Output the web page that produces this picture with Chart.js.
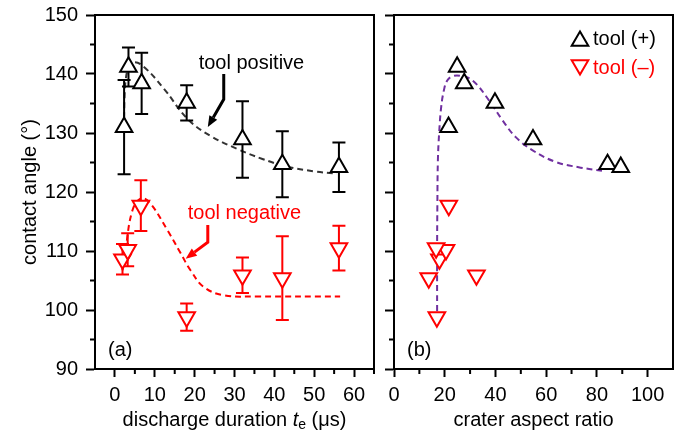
<!DOCTYPE html>
<html>
<head>
<meta charset="utf-8">
<script src="https://cdn.jsdelivr.net/npm/chart.js@4/dist/chart.umd.min.js"></script>
<style>
  body { margin: 0; background: #fff; }
  #wrap { position: relative; width: 683px; height: 439px; }
  canvas { position: absolute; top: 0; }
</style>
</head>
<body>
<div id="wrap">
  <canvas id="left" width="384" height="439" style="left:0"></canvas>
  <canvas id="right" width="299" height="439" style="left:384px"></canvas>
</div>
<script>
// contact angle vs discharge duration and crater aspect ratio
const angleTicks = [90, 100, 110, 120, 130, 140, 150];
const teTicks = [0, 10, 20, 30, 40, 50, 60];
const arTicks = [0, 20, 40, 60, 80, 100];

// tool positive
const posTe = [2.3, 3.4, 6.7, 18, 32, 42, 56.2];
const posAngle = [131.0, 141.2, 138.4, 135.1, 128.9, 124.7, 124.2];
const posErr = [8, 3.3, 5.2, 3, 6.5, 5.6, 4.2];
const posAR = [21.5, 24.9, 27.7, 39.8, 54.8, 84.2, 89.4];

// tool negative
const negTe = [1.9, 3.2, 6.5, 18, 32, 42, 56.2];
const negAngle = [108.6, 110.2, 117.7, 98.8, 105.9, 105.4, 110.5];
const negErr = [2.6, 2.8, 4.3, 2.3, 3, 7.1, 3.8];
const negAR = [17.9, 20.5, 21.6, 16.9, 32.5, 13.7, 16.6];

// dashed guide curves
const posFitX = [2.3, 2.4, 2.7, 3.4, 4.8, 7.3, 12.3, 18.2, 24, 30.7, 37, 43.2, 50, 55.7];
const posFitY = [132.5, 136, 139, 141, 142.0, 141.2, 137.5, 132.4, 129.5, 127.3, 125.6, 124.3, 123.5, 123.1];
const negFitX = [1.9, 2.75, 4.4, 6.5, 8.6, 13.2, 16.5, 19, 22.3, 27.3, 35.7, 56.5];
const negFitY = [106.7, 110.7, 116.9, 118.9, 118.3, 113.5, 109.6, 106.7, 103.9, 102.5, 102.3, 102.3];
const arFitX = [17.0, 17.0, 17.1, 17.3, 17.8, 18.6, 19.7, 21.0, 23.0, 26, 31, 37.5, 42.7, 48, 54.5, 63.7, 72.8, 82];
const arFitY = [99.8, 110, 118, 125.3, 130, 134.4, 137.3, 138.9, 139.6, 139.7, 138.9, 135.5, 132.2, 129.3, 127.1, 125.1, 124.2, 123.6];

const FONT = '"Liberation Sans", Arial, sans-serif';
Chart.defaults.font.family = FONT;
Chart.defaults.color = '#000';

const zip = (xs, ys) => xs.map((x, i) => ({x: x, y: ys[i]}));

function markers(label, xs, ys, color, down, errs) {
  return {
    label: label,
    data: zip(xs, ys),
    pointStyle: 'triangle',
    rotation: down ? 180 : 0,
    radius: 9.6,
    borderWidth: 2,
    borderColor: color,
    backgroundColor: '#fff',
    errorBars: errs,
    clip: false,
    order: 0
  };
}

function fit(xs, ys, color) {
  return {
    data: zip(xs, ys),
    showLine: true,
    pointRadius: 0,
    borderColor: color,
    borderWidth: 2,
    borderDash: [6, 4],
    tension: 0.4,
    order: 2
  };
}

function yScale(showLabels, width) {
  return {
    min: 90, max: 150,
    afterBuildTicks: s => { s.ticks = angleTicks.map(v => ({value: v})); },
    afterFit: s => { s.width = width; s.paddingTop = 0; s.paddingBottom = 0; },
    grid: { drawOnChartArea: false, tickLength: 9, tickWidth: 2, tickColor: '#000' },
    border: { color: '#000', width: 2 },
    ticks: { display: showLabels, padding: 8, font: { size: 20 } }
  };
}

function xScale(min, max, tickVals) {
  return {
    type: 'linear',
    min: min, max: max,
    afterBuildTicks: s => { s.ticks = tickVals.map(v => ({value: v})); },
    afterFit: s => { s.height = 70; s.paddingLeft = 0; s.paddingRight = 0; },
    grid: { drawOnChartArea: false, tickLength: 8, tickWidth: 2, tickColor: '#000' },
    border: { color: '#000', width: 2 },
    ticks: { padding: 6, maxRotation: 0, font: { size: 20 } }
  };
}

const errorBars = {
  id: 'errorBars',
  beforeDatasetDraw(chart, args) {
    const ds = chart.data.datasets[args.index];
    if (!ds.errorBars) return;
    const {ctx, scales} = chart;
    ctx.save();
    ctx.strokeStyle = ds.borderColor;
    ctx.lineWidth = 2;
    ds.data.forEach((p, j) => {
      const x = scales.x.getPixelForValue(p.x);
      const lo = scales.y.getPixelForValue(p.y - ds.errorBars[j]);
      const hi = scales.y.getPixelForValue(p.y + ds.errorBars[j]);
      ctx.beginPath();
      ctx.moveTo(x, lo); ctx.lineTo(x, hi);
      ctx.moveTo(x - 6.5, lo); ctx.lineTo(x + 6.5, lo);
      ctx.moveTo(x - 6.5, hi); ctx.lineTo(x + 6.5, hi);
      ctx.stroke();
    });
    ctx.restore();
  }
};

const decor = {
  id: 'decor',
  afterDraw(chart, args, o) {
    const {ctx, chartArea: a, scales} = chart;
    ctx.save();
    // frame
    ctx.strokeStyle = '#000';
    ctx.lineWidth = 2;
    ctx.strokeRect(a.left, a.top, a.right - a.left, a.bottom - a.top);
    // minor ticks
    ctx.beginPath();
    o.xMinor.forEach(v => {
      const x = scales.x.getPixelForValue(v);
      ctx.moveTo(x, a.bottom); ctx.lineTo(x, a.bottom + 5);
    });
    o.yMinor.forEach(v => {
      const y = scales.y.getPixelForValue(v);
      ctx.moveTo(a.left, y); ctx.lineTo(a.left - 5, y);
    });
    ctx.stroke();

    ctx.textBaseline = 'middle';
    ctx.font = '20px ' + FONT;
    ctx.fillStyle = '#000';
    // panel label
    ctx.textAlign = 'left';
    ctx.fillText(o.panel, a.left + 13, a.bottom - 19);

    // x title, pieces may be italic or subscript
    const parts = o.xTitle;
    const fontOf = p => (p.italic ? 'italic ' : '') + (p.sub ? '14px ' : '20px ') + FONT;
    let w = 0;
    parts.forEach(p => { ctx.font = fontOf(p); w += ctx.measureText(p.t).width; });
    let x = (a.left + a.right) / 2 - w / 2;
    parts.forEach(p => {
      ctx.font = fontOf(p);
      ctx.fillText(p.t, x, 420 + (p.sub ? 5 : 0));
      x += ctx.measureText(p.t).width;
    });

    // y title
    if (o.yTitle) {
      ctx.font = '20px ' + FONT;
      ctx.save();
      ctx.translate(30, (a.top + a.bottom) / 2);
      ctx.rotate(-Math.PI / 2);
      ctx.textAlign = 'center';
      ctx.fillText(o.yTitle, 0, 0);
      ctx.restore();
    }

    // annotations with arrows
    (o.notes || []).forEach(n => {
      ctx.fillStyle = n.color;
      ctx.strokeStyle = n.color;
      ctx.font = '20px ' + FONT;
      ctx.textAlign = 'center';
      ctx.fillText(n.text, scales.x.getPixelForValue(n.at[0]), scales.y.getPixelForValue(n.at[1]));
      const pts = n.path.map(p => [scales.x.getPixelForValue(p[0]), scales.y.getPixelForValue(p[1])]);
      const last = pts[pts.length - 1], prev = pts[pts.length - 2];
      const ang = Math.atan2(last[1] - prev[1], last[0] - prev[0]);
      const len = 11, hw = 4.5;
      const bx = last[0] - Math.cos(ang) * len, by = last[1] - Math.sin(ang) * len;
      ctx.lineWidth = 3;
      ctx.lineJoin = 'miter';
      ctx.beginPath();
      ctx.moveTo(pts[0][0], pts[0][1]);
      for (let i = 1; i < pts.length - 1; i++) ctx.lineTo(pts[i][0], pts[i][1]);
      ctx.lineTo(bx, by);
      ctx.stroke();
      ctx.beginPath();
      ctx.moveTo(last[0], last[1]);
      ctx.lineTo(bx + Math.sin(ang) * hw, by - Math.cos(ang) * hw);
      ctx.lineTo(bx - Math.sin(ang) * hw, by + Math.cos(ang) * hw);
      ctx.closePath();
      ctx.fill();
    });

    // legend
    if (o.legend) {
      const items = chart.data.datasets.filter(d => d.label);
      items.forEach((d, i) => {
        const my = a.top + 23 + i * 29;
        const mx = a.right - 93;
        ctx.lineWidth = 2;
        ctx.strokeStyle = d.borderColor;
        ctx.fillStyle = '#fff';
        Chart.helpers.drawPoint(ctx, {pointStyle: 'triangle', radius: 9.6, rotation: d.rotation, borderWidth: 2}, mx, my + (d.rotation ? -2 : 3));
        ctx.fillStyle = d.borderColor;
        ctx.font = '20px ' + FONT;
        ctx.textAlign = 'left';
        ctx.fillText(d.label, mx + 13, my + 1);
      });
    }
    ctx.restore();
  }
};

const common = {
  responsive: false,
  animation: false,
  events: [],
  plugins: { legend: { display: false }, tooltip: { enabled: false } }
};

new Chart(document.getElementById('left'), {
  type: 'scatter',
  data: {
    datasets: [
      markers(null, posTe, posAngle, '#000', false, posErr),
      markers(null, negTe, negAngle, '#ff0000', true, negErr),
      fit(posFitX, posFitY, '#333'),
      fit(negFitX, negFitY, '#ff0000')
    ]
  },
  options: Object.assign({}, common, {
    layout: { autoPadding: false, padding: { top: 15, right: 10, left: 0, bottom: 0 } },
    scales: { x: xScale(-5, 65, teTicks), y: yScale(true, 95) },
    plugins: Object.assign({}, common.plugins, {
      decor: {
        panel: '(a)',
        xMinor: [5, 15, 25, 35, 45, 55, 65],
        yMinor: [95, 105, 115, 125, 135, 145],
        yTitle: 'contact angle (°)',
        xTitle: [{t: 'discharge duration '}, {t: 't', italic: true}, {t: 'e', sub: true}, {t: ' (μs)'}],
        notes: [
          {text: 'tool positive', color: '#000', at: [34.25, 141.8], path: [[27.3, 140], [27.3, 135.7], [23.3, 131.0]]},
          {text: 'tool negative', color: '#ff0000', at: [32.5, 116.4], path: [[23.3, 114.4], [23.3, 111.5], [17.75, 108.7]]}
        ]
      }
    })
  }),
  plugins: [errorBars, decor]
});

new Chart(document.getElementById('right'), {
  type: 'scatter',
  data: {
    datasets: [
      markers('tool (+)', posAR, posAngle, '#000', false, null),
      markers('tool (–)', negAR, negAngle, '#ff0000', true, null),
      fit(arFitX, arFitY, '#7030a0')
    ]
  },
  options: Object.assign({}, common, {
    layout: { autoPadding: false, padding: { top: 15, right: 10, left: 0, bottom: 0 } },
    scales: { x: xScale(0, 110, arTicks), y: yScale(false, 10) },
    plugins: Object.assign({}, common.plugins, {
      decor: {
        panel: '(b)',
        xMinor: [10, 30, 50, 70, 90],
        yMinor: [95, 105, 115, 125, 135, 145],
        xTitle: [{t: 'crater aspect ratio'}],
        legend: true
      }
    })
  }),
  plugins: [errorBars, decor]
});
</script>
</body>
</html>
